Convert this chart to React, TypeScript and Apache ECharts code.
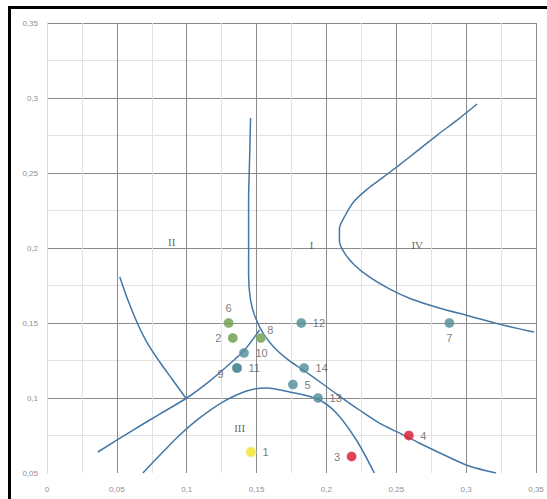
import React, { useEffect, useRef } from "react";
import * as echarts from "echarts";

const xTicks = [0, 0.05, 0.1, 0.15, 0.2, 0.25, 0.3, 0.35];
const yTicks = [0.05, 0.1, 0.15, 0.2, 0.25, 0.3, 0.35];

// boundary curves, [x, y]
const curveA: number[][] = [
  [0.1457, 0.2867], [0.145, 0.2587], [0.1443, 0.232], [0.1443, 0.2053], [0.1443, 0.182],
  [0.1457, 0.1653], [0.1493, 0.1533], [0.155, 0.1427], [0.1629, 0.1333], [0.1729, 0.1253],
  [0.1843, 0.118], [0.1964, 0.11], [0.2093, 0.1013], [0.2236, 0.092], [0.2379, 0.0833],
  [0.2521, 0.0767], [0.2664, 0.07], [0.2843, 0.062], [0.3021, 0.0547], [0.3214, 0.05],
];
const curveB: number[][] = [
  [0.0686, 0.05], [0.0843, 0.0653], [0.095, 0.0753], [0.1093, 0.0867], [0.1257, 0.0973],
  [0.1429, 0.1047], [0.1571, 0.1067], [0.1736, 0.104], [0.1936, 0.0993], [0.2071, 0.09],
  [0.2214, 0.072], [0.2343, 0.05],
];
const curveC: number[][] = [
  [0.0364, 0.064], [0.0593, 0.0773], [0.0807, 0.0893], [0.1, 0.1], [0.1164, 0.1113],
  [0.1307, 0.1227], [0.1414, 0.132], [0.1521, 0.1453],
];
const curveD: number[][] = [
  [0.0521, 0.1807], [0.0579, 0.1653], [0.0643, 0.1507], [0.0714, 0.1373], [0.0807, 0.124],
  [0.09, 0.112], [0.0993, 0.1],
];
const curveE: number[][] = [
  [0.3079, 0.296], [0.2936, 0.2853], [0.2793, 0.2753], [0.265, 0.2647], [0.2521, 0.2553],
  [0.24, 0.2467], [0.2293, 0.2393], [0.22, 0.2313], [0.2136, 0.222], [0.2093, 0.2127],
  [0.2093, 0.2047], [0.2129, 0.1967], [0.22, 0.1887], [0.2307, 0.1807], [0.245, 0.1727],
  [0.2607, 0.166], [0.2807, 0.16], [0.3021, 0.1547], [0.3236, 0.1493], [0.3486, 0.144],
];

// points
const pointIds = ["1", "2", "3", "4", "5", "6", "7", "8", "9", "10", "11", "12", "13", "14"];
const pointX = [0.146, 0.133, 0.218, 0.259, 0.176, 0.13, 0.288, 0.153, 0.136, 0.141, 0.136, 0.182, 0.194, 0.184];
const pointY = [0.064, 0.14, 0.061, 0.075, 0.109, 0.15, 0.15, 0.14, 0.12, 0.13, 0.12, 0.15, 0.1, 0.12];
const pointGroup = ["yellow", "green", "red", "red", "teal", "green", "teal", "green", "teal", "teal", "teal", "teal", "teal", "teal"];
const labelPos = ["right", "left", "left", "right", "right", "top", "bottom", "insideTopRight", "bottomLeft", "right", "right", "right", "right", "right"];

// zone labels
const zoneNames = ["II", "I", "IV", "III"];
const zoneX = [0.0893, 0.1893, 0.265, 0.1379];
const zoneY = [0.204, 0.202, 0.202, 0.08];

const groupColor: Record<string, string> = {
  yellow: "#f2e426",
  green: "#6a9b48",
  red: "#dc1430",
  teal: "#4f8c97",
};

const fmt = (v: number) => String(Number(v.toFixed(3))).replace(".", ",");

export default function App() {
  const ref = useRef<HTMLDivElement>(null);
  useEffect(() => {
    document.body.style.margin = "0";
    const chart = echarts.init(ref.current!, null, { renderer: "svg" });
    const lineColor = "#4377a6";
    const mkLine = (d: number[][]) => ({
      type: "line",
      data: d,
      smooth: 0.3,
      showSymbol: false,
      symbol: "none",
      lineStyle: { color: lineColor, width: 1.5 },
      z: 3,
      silent: true,
    });
    const pointData = pointIds.map((id, i) => {
      const pos = labelPos[i];
      let label: any = { show: true, position: "right", distance: 6 };
      if (pos === "left") label = { show: true, position: "left", distance: 6 };
      else if (pos === "top") label = { show: true, position: "top", distance: 4 };
      else if (pos === "bottom") label = { show: true, position: "bottom", distance: 4 };
      else if (pos === "insideTopRight") label = { show: true, position: [12, -8] };
      else if (pos === "bottomLeft") label = { show: true, position: [-14, 6] };
      return {
        value: [pointX[i], pointY[i]],
        name: id,
        itemStyle: {
          color: groupColor[pointGroup[i]],
          borderColor: pointGroup[i] === "yellow" ? "#f7f08a" : "rgba(255,255,255,0.3)",
          borderWidth: 1,
        },
        label,
      };
    });
    chart.setOption({
      animation: false,
      backgroundColor: "#ffffff",
      grid: { left: 47, right: 11, top: 23, bottom: 26, containLabel: false },
      xAxis: {
        type: "value",
        min: 0,
        max: 0.35,
        interval: 0.05,
        axisLine: { show: false },
        axisTick: { show: false },
        axisLabel: {
          formatter: (v: number) => fmt(v),
          color: "#8f8f8f",
          fontSize: 8,
          margin: 12,
          fontFamily: "Liberation Sans",
        },
        splitLine: { show: true, showMinLine: false, lineStyle: { color: "#8a8a8a", width: 1 } },
        minorTick: { show: false, splitNumber: 2 },
        minorSplitLine: { show: true, lineStyle: { color: "#e2e2e2", width: 1 } },
      },
      yAxis: {
        type: "value",
        min: 0.05,
        max: 0.35,
        interval: 0.05,
        axisLine: { show: true, lineStyle: { color: "#dcdcdc" } },
        axisTick: { show: false },
        axisLabel: {
          formatter: (v: number) => fmt(v),
          color: "#8f8f8f",
          fontSize: 8,
          margin: 9,
          fontFamily: "Liberation Sans",
        },
        splitLine: { show: true, showMinLine: false, lineStyle: { color: "#8a8a8a", width: 1 } },
        minorTick: { show: false, splitNumber: 2 },
        minorSplitLine: { show: true, lineStyle: { color: "#e2e2e2", width: 1 } },
      },
      series: [
        mkLine(curveA),
        mkLine(curveB),
        mkLine(curveC),
        mkLine(curveD),
        mkLine(curveE),
        {
          type: "scatter",
          symbolSize: 10,
          data: pointData,
          z: 5,
          label: {
            formatter: (p: any) => p.name,
            color: "#5a5a5a",
            fontSize: 11,
            fontFamily: "Liberation Sans",
          },
        },
        {
          type: "scatter",
          symbolSize: 0,
          data: zoneNames.map((n, i) => ({ value: [zoneX[i], zoneY[i]], name: n })),
          z: 4,
          label: {
            show: true,
            position: "inside",
            formatter: (p: any) => p.name,
            color: "#3a3a3a",
            fontSize: 11,
            fontFamily: "Liberation Serif",
          },
        },
      ],
      graphic: [
        { type: "rect", shape: { x: 8, y: 6, width: 539, height: 3 }, style: { fill: "#000" } },
        { type: "rect", shape: { x: 8, y: 6, width: 3, height: 493 }, style: { fill: "#000" } },
      ],
    });
    return () => chart.dispose();
  }, []);
  return <div ref={ref} style={{ width: 547, height: 499 }} />;
}
